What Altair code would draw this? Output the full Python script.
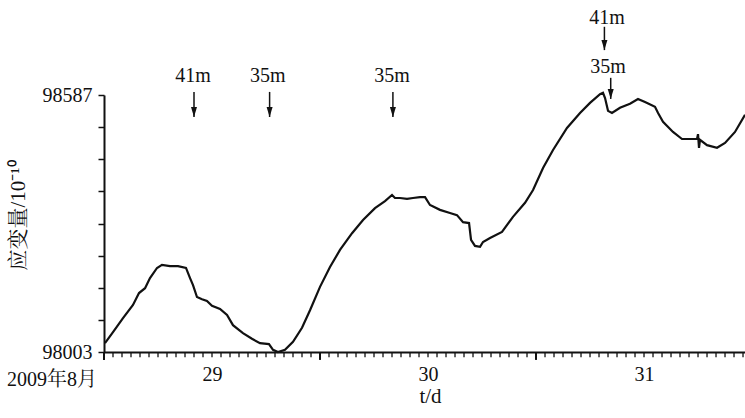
import altair as alt
import pandas as pd

# time in hours since 2009-08-29 00:00, strain in 1e-10
hours = [0.11, 1.0, 2.11, 3.22, 3.89, 4.56, 5.11, 5.89, 6.44, 7.33, 8.22, 9.11, 9.56, 9.89,
         10.33, 10.89, 11.44, 12.0, 12.89, 13.67, 14.33, 15.44, 16.44, 17.33, 18.33, 18.78,
         19.33, 20.11, 21.0, 22.0, 22.89, 24.0, 25.11, 26.22, 27.56, 28.78, 30.11, 31.22,
         32.0, 32.33, 32.89, 33.67, 34.33, 35.11, 35.67, 36.22, 37.33, 38.44, 39.22, 39.89,
         40.56, 40.78, 41.22, 41.78, 42.11, 42.89, 44.22, 45.44, 46.78, 47.67, 48.78, 49.89,
         51.44, 52.89, 54.0, 55.11, 55.44, 55.67, 56.0, 56.44, 57.33, 58.44, 59.33, 60.11,
         61.22, 61.56, 62.11, 63.22, 64.22, 65.44, 65.89, 66.0, 66.11, 66.22, 67.0, 68.11,
         69.0, 70.11, 71.22]
strain = [98023, 98048, 98080, 98110, 98137, 98148, 98171, 98194, 98201, 98198, 98198, 98194,
          98171, 98155, 98128, 98123, 98119, 98108, 98101, 98087, 98064, 98046, 98033, 98023,
          98021, 98008, 98003, 98008, 98026, 98058, 98098, 98151, 98196, 98235, 98273, 98303,
          98330, 98346, 98360, 98353, 98353, 98351, 98353, 98355, 98355, 98337, 98326, 98319,
          98314, 98298, 98296, 98258, 98244, 98242, 98253, 98262, 98276, 98310, 98342, 98371,
          98421, 98462, 98512, 98546, 98569, 98589, 98592, 98580, 98551, 98546, 98558, 98567,
          98578, 98571, 98560, 98546, 98526, 98503, 98487, 98487, 98487, 98498, 98467, 98485,
          98473, 98467, 98478, 98503, 98542]

y_ticks = [98003, 98076, 98149, 98222, 98295, 98368, 98441, 98514, 98587]
hour_ticks = list(range(0, 72))
day_ticks = [0, 24, 48]
day_label_pos = [12, 36, 60]
day_label_text = ["29", "30", "31"]

# event annotations
ann_text = ["41m", "35m", "35m", "41m", "35m"]
ann_text_x = [9.9, 18.2, 32.0, 55.9, 56.0]
ann_text_y = [98630, 98630, 98630, 98762, 98651]
arrow_x = [10.0, 18.4, 32.1, 55.6, 56.3]
arrow_top = [98594, 98594, 98594, 98742, 98626]
arrow_tip = [98537, 98537, 98537, 98689, 98578]

FONT = "Liberation Serif, Noto Serif CJK SC, Noto Sans CJK SC"
INK = "#111111"
H = 257

line_df = pd.DataFrame({"t": hours, "v": strain})
ann_df = pd.DataFrame({"label": ann_text, "t": ann_text_x, "v": ann_text_y})
arr_df = pd.DataFrame({"t": arrow_x, "v": arrow_top, "v2": arrow_tip})
hour_df = pd.DataFrame({"hr": [float(h) for h in hour_ticks]})
day_df = pd.DataFrame({"dy": [float(d) for d in day_ticks]})

label_expr = " : ".join(
    f"datum.value == {p} ? '{s}'" for p, s in zip(day_label_pos, day_label_text)
) + " : ''"

xscale = alt.Scale(domain=[0, 71.22], nice=False, zero=False)
yscale = alt.Scale(domain=[98003, 98587], nice=False, zero=False)

line = alt.Chart(line_df).mark_line(color=INK, strokeWidth=2.2, clip=False).encode(
    x=alt.X("t:Q", scale=xscale,
            axis=alt.Axis(values=day_label_pos, tickCount=100, labelExpr=label_expr,
                          ticks=False, title="t/d", grid=False,
                          domainColor=INK, domainWidth=2, labelFontSize=20, labelPadding=12,
                          labelFlush=False, labelOverlap=False,
                          titleFontSize=21, titleFontWeight="normal", titleX=326, titleY=44,
                          titleBaseline="middle", labelFont=FONT, titleFont=FONT,
                          labelColor=INK, titleColor=INK)),
    y=alt.Y("v:Q", scale=yscale,
            axis=alt.Axis(values=y_ticks, tickCount=100,
                          labelExpr="datum.value == 98003 || datum.value == 98587 ? datum.label : ''",
                          format="d", title="应变量/10⁻¹⁰", tickSize=6, grid=False,
                          domainColor=INK, domainWidth=2, tickColor=INK,
                          tickWidth=1.5, labelFontSize=20, labelPadding=6,
                          titleFontSize=21, titleFontWeight="normal", titleAngle=-90,
                          titleX=-86, titleY=120, titleAlign="center", titleBaseline="middle",
                          labelFont=FONT, titleFont=FONT, labelOverlap=False,
                          labelColor=INK, titleColor=INK)),
)

# hourly minor ticks and day-boundary major ticks under the time axis,
# positioned through the strain scale just below its lower bound
minor = alt.Chart(hour_df).mark_rule(color=INK, strokeWidth=1.3, opacity=1, clip=False).encode(
    x=alt.X("hr:Q", scale=xscale),
    y=alt.datum(98001, scale=yscale), y2=alt.datum(97991))
major = alt.Chart(day_df).mark_rule(color=INK, strokeWidth=2, opacity=1, clip=False).encode(
    x=alt.X("dy:Q", scale=xscale),
    y=alt.datum(98003, scale=yscale), y2=alt.datum(97985))

shafts = alt.Chart(arr_df).mark_rule(color=INK, strokeWidth=1.5).encode(
    x=alt.X("t:Q", scale=xscale),
    y=alt.Y("v:Q", scale=yscale), y2="v2:Q")

heads = alt.Chart(arr_df).mark_point(
    shape="M-0.6,-1L0.6,-1L0,1Z", filled=True, color=INK, size=100, opacity=1, yOffset=-5
).encode(x=alt.X("t:Q", scale=xscale), y=alt.Y("v2:Q", scale=yscale))

texts = alt.Chart(ann_df).mark_text(
    font=FONT, fontSize=20, color=INK, baseline="middle", align="center"
).encode(x=alt.X("t:Q", scale=xscale), y=alt.Y("v:Q", scale=yscale), text="label:N")

date_label = alt.Chart(pd.DataFrame({"s": ["2009年8月"]})).mark_text(
    font=FONT, fontSize=20, color=INK, baseline="middle", align="center"
).encode(x=alt.value(-52), y=alt.value(285), text="s:N")

chart = alt.layer(line, minor, major, shafts, heads, texts, date_label).properties(
    width=641, height=H,
    autosize=alt.AutoSizeParams(type="none"),
    padding={"left": 104, "top": 95, "right": 0, "bottom": 66},
    background="white",
).configure_view(stroke=None)

chart.save("out.html", embed_options={"renderer": "svg", "actions": False})
